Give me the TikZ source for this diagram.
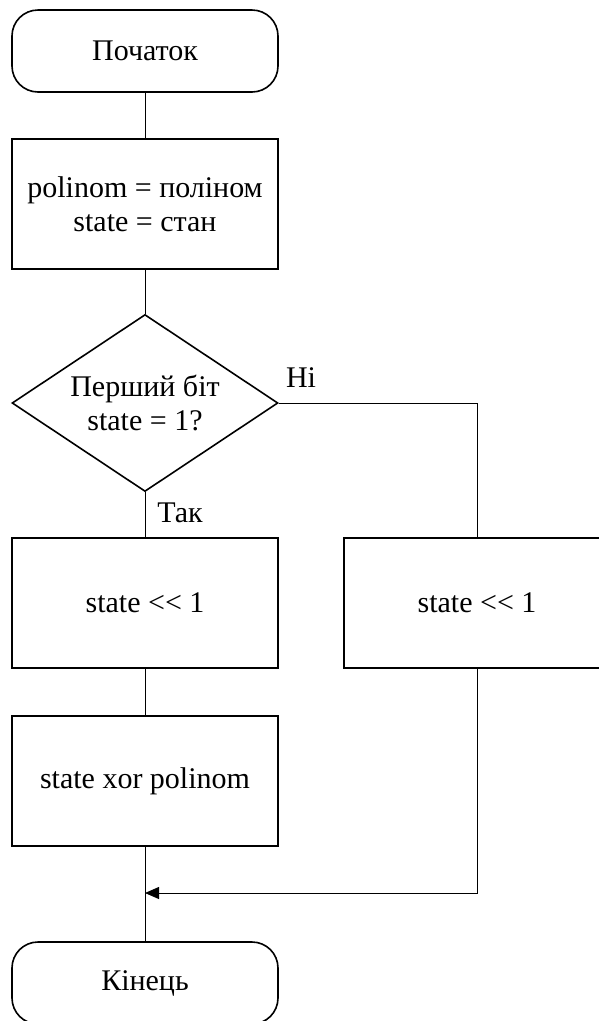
\documentclass[tikz,border=0pt]{standalone}
\usepackage{fontspec}
\setmainfont{Liberation Serif}
\usepackage{tikz}
\usetikzlibrary{arrows.meta, positioning, shapes.geometric}

\begin{document}
\begin{tikzpicture}[x=1pt, y=-1pt, >={Triangle[length=14pt, width=12pt]},
  font=\fontsize{30}{34}\selectfont,
  terminal/.style={draw, line width=1.6pt, rounded corners=26pt, minimum width=266pt, minimum height=82pt, inner sep=0pt},
  process/.style={draw, line width=1.6pt, minimum width=266pt, minimum height=130pt, inner sep=0pt, align=center},
  decision/.style={draw, line width=1.6pt, diamond, aspect=1.5, minimum width=266pt, minimum height=177pt, inner sep=0pt, align=center},
  link/.style={line width=0.9pt}]
  \useasboundingbox (0,0) rectangle (599,1021);
  \clip (0,0) rectangle (599,1021);

  % Bloky
  \node[terminal] (start) at (145,51) {Початок};
  \node[process] (init) at (145,204) {polinom = поліном\\state = стан};
  \node[decision] (check) at (145,403) {Перший біт\\state = 1?};
  \node[process] (shiftyes) at (145,603) {state <{}< 1};
  \node[process] (shiftno) at (477,603) {state <{}< 1};
  \node[process] (xorbox) at (145,781) {state xor polinom};
  \node[terminal] (end) at (145,983) {Кінець};

  % Popisky větví
  \node (no) at (301,378) {Ні};
  \node (yes) at (180,513) {Так};

  % Spoje
  \coordinate (merge) at (145,893);
  \draw[link] (start) -- (init);
  \draw[link] (init) -- (check);
  \draw[link] (check) -- (shiftyes);
  \draw[link] (check.east) -| (shiftno);
  \draw[link] (shiftyes) -- (xorbox);
  \draw[link] (xorbox) -- (end);
  \draw[link, ->] (shiftno) |- (merge);
\end{tikzpicture}
\end{document}
